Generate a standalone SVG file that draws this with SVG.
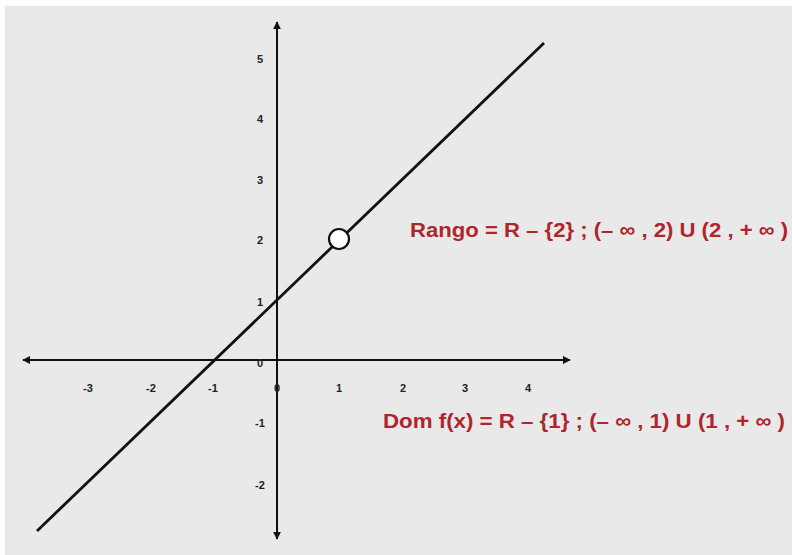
<svg xmlns="http://www.w3.org/2000/svg" width="792" height="555" viewBox="0 0 792 555">
<defs>
<style>
.axis{stroke:#111;stroke-width:2;fill:none}
.tick{font-family:"Liberation Sans",Arial,sans-serif;font-size:11px;font-weight:bold;fill:#222;text-anchor:middle}
.eq{font-family:"Liberation Sans",Arial,sans-serif;font-size:21px;font-weight:bold;fill:#b0252b}
</style>
<marker id="ah" viewBox="0 0 10 10" refX="9" refY="5" markerWidth="8" markerHeight="8" markerUnits="userSpaceOnUse" orient="auto">
<path d="M0,0 L10,5 L0,10 z" fill="#111"/>
</marker>
</defs>
<rect width="792" height="555" fill="#fff"/>
<rect x="5" y="6" width="787" height="549" fill="#e9e9e9"/>
<g id="connectors">
<line id="x-axis" class="axis" x1="277" y1="360" x2="23" y2="360" marker-end="url(#ah)"/>
<line id="x-axis-r" class="axis" x1="277" y1="360" x2="570" y2="360" marker-end="url(#ah)"/>
<line id="y-axis-t" class="axis" x1="277" y1="360" x2="277" y2="22" marker-end="url(#ah)"/>
<line id="y-axis-b" class="axis" x1="277" y1="360" x2="277" y2="539" marker-end="url(#ah)"/>
<line id="graph-line" x1="37" y1="531" x2="544" y2="43" stroke="#111" stroke-width="2.8"/>
</g>
<g id="hole">
<circle cx="339" cy="239" r="10" fill="#fff" stroke="#111" stroke-width="2.2"/>
</g>
<g id="x-ticks">
<text class="tick" x="88" y="392">-3</text>
<text class="tick" x="151" y="392">-2</text>
<text class="tick" x="213" y="392">-1</text>
<text class="tick" x="277" y="392">0</text>
<text class="tick" x="339" y="392">1</text>
<text class="tick" x="403" y="392">2</text>
<text class="tick" x="465" y="392">3</text>
<text class="tick" x="528" y="392">4</text>
<text class="tick" x="260" y="367">0</text>
</g>
<g id="y-ticks">
<text class="tick" x="260" y="63">5</text>
<text class="tick" x="260" y="123">4</text>
<text class="tick" x="260" y="184">3</text>
<text class="tick" x="260" y="244">2</text>
<text class="tick" x="260" y="306">1</text>
<text class="tick" x="260" y="427">-1</text>
<text class="tick" x="260" y="489">-2</text>
</g>
<g id="rango">
<text class="eq" x="410" y="237" textLength="378" lengthAdjust="spacingAndGlyphs">Rango = R – {2} ; (– ∞ , 2) U (2 , + ∞ )</text>
</g>
<g id="dominio">
<text class="eq" x="383" y="428" textLength="402" lengthAdjust="spacingAndGlyphs">Dom f(x) = R – {1} ; (– ∞ , 1) U (1 , + ∞ )</text>
</g>
</svg>
